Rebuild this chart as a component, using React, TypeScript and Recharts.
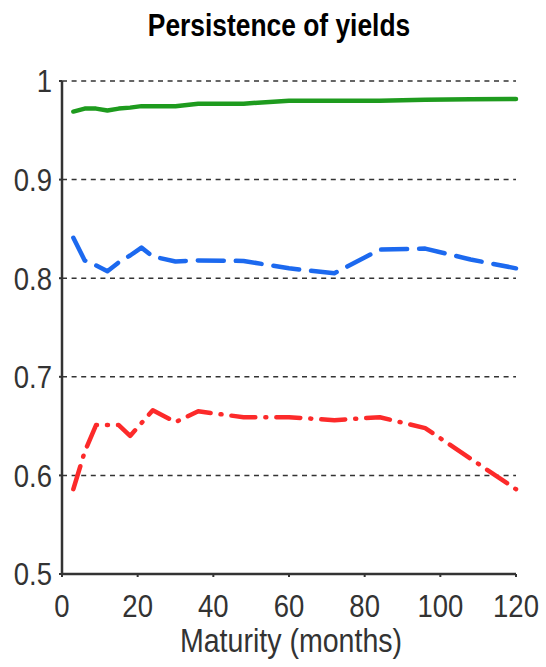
import React from "react";
import { LineChart, Line, XAxis, YAxis, CartesianGrid } from "recharts";

const maturities = [3, 6, 9, 12, 15, 18, 21, 24, 30, 36, 48, 60, 72, 84, 96, 108, 120];
const greenSeries = [0.969, 0.972, 0.972, 0.970, 0.972, 0.973, 0.9745, 0.9745, 0.9745, 0.977, 0.977, 0.98, 0.98, 0.98, 0.981, 0.9815, 0.9817];
const blueSeries = [0.841, 0.818, 0.813, 0.807, 0.816, 0.823, 0.831, 0.822, 0.817, 0.818, 0.8175, 0.81, 0.805, 0.829, 0.83, 0.819, 0.81];
const redSeries = [0.586, 0.624, 0.651, 0.651, 0.651, 0.64, 0.653, 0.666, 0.654, 0.665, 0.659, 0.659, 0.656, 0.659, 0.648, 0.617, 0.586];
const xTicks = [0, 20, 40, 60, 80, 100, 120];
const yTicks = [0.5, 0.6, 0.7, 0.8, 0.9, 1];
const gridValues = [0.6, 0.7, 0.8, 0.9, 1];
const title = "Persistence of yields";
const xLabel = "Maturity (months)";

const data = maturities.map((m, i) => ({
  m,
  g: greenSeries[i],
  b: blueSeries[i],
  r: redSeries[i],
}));

const FONT = '"Liberation Sans", Arial, sans-serif';
const TICK_SCALE = 0.86;

const fmtY = (v: number) => (v === 1 ? "1" : v.toFixed(1));

const XTick = (props: any) => {
  const { x, y, payload } = props;
  return (
    <g transform={`translate(${x},${y}) scale(${TICK_SCALE},1)`}>
      <text x={0} y={0} dy="0.71em" textAnchor="middle" fill="#333" fontSize={32} fontFamily={FONT}>
        {payload.value}
      </text>
    </g>
  );
};

const YTick = (props: any) => {
  const { x, y, payload } = props;
  return (
    <g transform={`translate(${x},${y}) scale(${TICK_SCALE},1)`}>
      <text x={0} y={0} dy="0.355em" textAnchor="end" fill="#333" fontSize={32} fontFamily={FONT}>
        {fmtY(payload.value)}
      </text>
    </g>
  );
};

export default function App() {
  return (
    <div style={{ position: "absolute", left: 0, top: 0, width: 546, height: 667, background: "#fff", fontFamily: FONT }}>
      <div
        style={{
          position: "absolute",
          left: 0,
          width: 558,
          top: 5,
          textAlign: "center",
          fontSize: 32,
          fontWeight: "bold",
          color: "#000",
          lineHeight: "40px",
          transform: "scaleX(0.824)",
          transformOrigin: "279px 0px",
        }}
      >
        {title}
      </div>
      <LineChart
        width={546}
        height={667}
        data={data}
        margin={{ top: 81, right: 30, left: 0, bottom: 0 }}
        style={{ fontFamily: FONT }}
      >
        <CartesianGrid
          horizontal={true}
          vertical={false}
          horizontalValues={gridValues}
          stroke="#333"
          strokeWidth={1.5}
          strokeDasharray="5 4.6"
        />
        <XAxis
          dataKey="m"
          type="number"
          domain={[0, 120]}
          ticks={xTicks}
          height={93}
          axisLine={{ stroke: "#333", strokeWidth: 2.5 }}
          tickLine={{ stroke: "#333", strokeWidth: 2 }}
          tickSize={3}
          tickMargin={17}
          tick={<XTick />}
          interval={0}
        />
        <YAxis
          type="number"
          domain={[0.5, 1]}
          ticks={yTicks}
          width={62}
          axisLine={{ stroke: "#333", strokeWidth: 2.5 }}
          tickLine={{ stroke: "#333", strokeWidth: 2 }}
          tickSize={3}
          tickMargin={7}
          tick={<YTick />}
          interval={0}
        />
        <Line
          dataKey="g"
          type="linear"
          stroke="#1e9b1e"
          strokeWidth={4.5}
          dot={false}
          activeDot={false}
          strokeLinecap="round"
          strokeLinejoin="round"
          isAnimationActive={false}
        />
        <Line
          dataKey="b"
          type="linear"
          stroke="#1c69ef"
          strokeWidth={4.5}
          strokeDasharray="26 12"
          dot={false}
          activeDot={false}
          strokeLinecap="round"
          strokeLinejoin="round"
          isAnimationActive={false}
        />
        <Line
          dataKey="r"
          type="linear"
          stroke="#fc2a2a"
          strokeWidth={4.5}
          strokeDasharray="24 10 1 10"
          dot={false}
          activeDot={false}
          strokeLinecap="round"
          strokeLinejoin="round"
          isAnimationActive={false}
        />
      </LineChart>
      <div
        style={{
          position: "absolute",
          left: 0,
          width: 582,
          top: 618,
          textAlign: "center",
          fontSize: 34,
          color: "#333",
          lineHeight: "44px",
          transform: "scaleX(0.84)",
          transformOrigin: "291px 0px",
        }}
      >
        {xLabel}
      </div>
    </div>
  );
}
